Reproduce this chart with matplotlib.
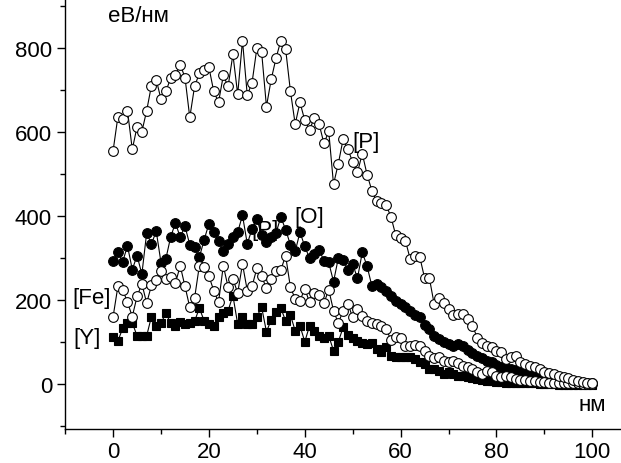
import numpy as np
import matplotlib
matplotlib.use('Agg')
import matplotlib.pyplot as plt
from matplotlib.ticker import MultipleLocator

plt.rcParams['font.family'] = ['Liberation Sans', 'DejaVu Sans']

depth = np.arange(0, 101)

p_vals = [556, 637, 632, 651, 559, 613, 601, 651, 711, 725,
          678, 697, 728, 735, 761, 730, 635, 709, 740, 747,
          754, 697, 671, 735, 709, 785, 690, 818, 688, 718,
          800, 790, 661, 726, 776, 818, 798, 698, 619, 671,
          628, 606, 634, 619, 573, 602, 476, 525, 583, 559,
          529, 504, 549, 499, 461, 435, 432, 426, 398, 354,
          348, 342, 298, 305, 303, 253, 253, 191, 205, 193,
          179, 165, 167, 167, 155, 139, 111, 99, 91, 88,
          80, 76, 60, 65, 67, 52, 48, 44, 41, 37,
          30, 27, 24, 20, 17, 14, 11, 8, 6, 4,
          3]

o_vals = [294, 314, 292, 329, 273, 306, 262, 360, 334, 364,
          289, 298, 350, 384, 350, 376, 332, 326, 302, 344,
          382, 362, 342, 316, 334, 350, 362, 402, 334, 370,
          394, 354, 338, 350, 360, 398, 368, 332, 316, 362,
          328, 300, 310, 320, 294, 290, 244, 300, 296, 272,
          286, 252, 314, 281, 234, 239, 231, 223, 211, 199,
          192, 183, 175, 165, 159, 140, 131, 114, 107, 100,
          95, 91, 95, 91, 81, 75, 68, 63, 56, 52,
          46, 42, 38, 36, 33, 30, 27, 24, 21, 18,
          14, 12, 10, 9, 8, 7, 6, 5, 4, 3,
          2]

fe_vals = [161, 233, 225, 195, 161, 209, 239, 193, 235, 247,
           270, 251, 255, 240, 282, 233, 183, 205, 282, 278,
           257, 223, 195, 282, 231, 251, 217, 286, 223, 233,
           276, 257, 228, 251, 270, 272, 306, 231, 203, 199,
           227, 195, 217, 213, 193, 225, 175, 145, 175, 191,
           159, 179, 163, 151, 145, 143, 139, 131, 105, 113,
           110, 91, 91, 94, 92, 78, 68, 62, 64, 56,
           52, 56, 50, 44, 40, 36, 28, 25, 32, 28,
           20, 16, 20, 16, 13, 10, 9, 8, 7, 6,
           5, 4, 4, 3, 3, 2, 2, 2, 1, 1,
           1]

y_vals = [113, 103, 133, 145, 146, 115, 115, 115, 161, 139,
          145, 169, 146, 138, 149, 143, 146, 150, 181, 151,
          143, 138, 161, 169, 175, 211, 143, 159, 143, 143,
          161, 183, 125, 153, 173, 181, 151, 165, 127, 139,
          101, 139, 127, 114, 111, 115, 80, 101, 135, 117,
          109, 103, 99, 95, 99, 84, 76, 88, 66, 64,
          64, 64, 64, 61, 52, 48, 37, 36, 32, 24,
          28, 24, 20, 20, 16, 14, 12, 10, 8, 7,
          6, 5, 4, 4, 3, 3, 2, 2, 2, 1,
          1, 0, 0, -1, -1, -2, -2, -2, -3, -3,
          -3]

fig = plt.figure(figsize=(6.21, 4.64), dpi=100)
ax = fig.add_axes([0.105, 0.073, 0.895, 0.927])

# hidden label that sits behind the [O] points
ax.text(31.7, 369, '[P]', fontsize=16, ha='center', va='center', zorder=1)

line_kw = dict(color='black', lw=0.8, markeredgecolor='black', markeredgewidth=0.8)
ax.plot(depth, y_vals, marker='s', ms=6.3, markerfacecolor='black', zorder=2, **line_kw)
ax.plot(depth, o_vals, marker='o', ms=7, markerfacecolor='black', zorder=3, **line_kw)
ax.plot(depth, fe_vals, marker='o', ms=7, markerfacecolor='white', zorder=4, **line_kw)
ax.plot(depth, p_vals, marker='o', ms=7, markerfacecolor='white', zorder=5, **line_kw)

ax.text(52.8, 578, '[P]', fontsize=16, ha='center', va='center', zorder=6)
ax.text(40.9, 400, '[O]', fontsize=16, ha='center', va='center', zorder=6)
ax.text(-4.4, 207, '[Fe]', fontsize=16, ha='center', va='center', zorder=6)
ax.text(-5.4, 110, '[Y]', fontsize=16, ha='center', va='center', zorder=6)
ax.text(-1, 878, 'еВ/нм', fontsize=16, ha='left', va='center')
ax.text(100, -48, 'нм', fontsize=16, ha='center', va='center')

ax.set_xlim(-10, 106)
ax.set_ylim(-107, 917)
ax.xaxis.set_major_locator(MultipleLocator(20))
ax.xaxis.set_minor_locator(MultipleLocator(10))
ax.yaxis.set_major_locator(MultipleLocator(200))
ax.yaxis.set_minor_locator(MultipleLocator(100))
ax.tick_params(which='major', length=6, width=1, labelsize=16)
ax.tick_params(axis='x', which='major', pad=2.5)
ax.tick_params(which='minor', length=3.5, width=1)

for side in ['top', 'right']:
    ax.spines[side].set_visible(False)
for side in ['left', 'bottom']:
    ax.spines[side].set_linewidth(1)

fig.savefig('out.png', dpi=100)
